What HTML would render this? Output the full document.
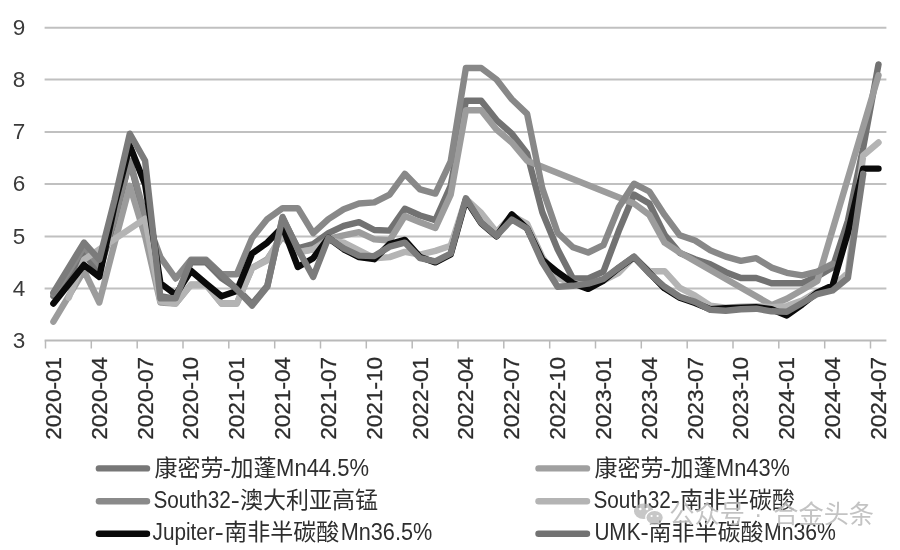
<!DOCTYPE html>
<html><head><meta charset="utf-8"><title>chart</title>
<style>
html,body{margin:0;padding:0;background:#fff;}
body{width:900px;height:550px;overflow:hidden;position:relative;}
svg text{font-family:"Liberation Sans","Noto Sans CJK SC",sans-serif;}
.yl{font-size:22.5px;fill:#3a3a3a;}
.xl{font-size:22.6px;fill:#2c2c2c;stroke:#2c2c2c;stroke-width:0.3px;}
.lg{font-size:23px;fill:#2e2e2e;}
.wm{font-size:25.2px;fill:#bcbcbc;fill-opacity:0.9;stroke:#fff;stroke-width:0.5px;stroke-opacity:0.6;paint-order:stroke;}
</style></head><body>
<svg width="900" height="550" viewBox="0 0 900 550" style="position:absolute;left:0;top:0;will-change:transform">
<line x1="44.6" x2="886.4" y1="288.6" y2="288.6" stroke="#c0c0c0" stroke-width="2"/>
<line x1="44.6" x2="886.4" y1="236.6" y2="236.6" stroke="#c0c0c0" stroke-width="2"/>
<line x1="44.6" x2="886.4" y1="184.0" y2="184.0" stroke="#c0c0c0" stroke-width="2"/>
<line x1="44.6" x2="886.4" y1="132.1" y2="132.1" stroke="#c0c0c0" stroke-width="2"/>
<line x1="44.6" x2="886.4" y1="79.4" y2="79.4" stroke="#c0c0c0" stroke-width="2"/>
<line x1="44.6" x2="886.4" y1="27.7" y2="27.7" stroke="#c0c0c0" stroke-width="2"/>
<line x1="44.6" x2="886.4" y1="340.4" y2="340.4" stroke="#b9b9b9" stroke-width="2"/>
<line x1="45.5" x2="45.5" y1="340.5" y2="348.5" stroke="#b9b9b9" stroke-width="1.5"/>
<line x1="91.3" x2="91.3" y1="340.5" y2="348.5" stroke="#b9b9b9" stroke-width="1.5"/>
<line x1="137.2" x2="137.2" y1="340.5" y2="348.5" stroke="#b9b9b9" stroke-width="1.5"/>
<line x1="183.0" x2="183.0" y1="340.5" y2="348.5" stroke="#b9b9b9" stroke-width="1.5"/>
<line x1="228.8" x2="228.8" y1="340.5" y2="348.5" stroke="#b9b9b9" stroke-width="1.5"/>
<line x1="274.7" x2="274.7" y1="340.5" y2="348.5" stroke="#b9b9b9" stroke-width="1.5"/>
<line x1="320.5" x2="320.5" y1="340.5" y2="348.5" stroke="#b9b9b9" stroke-width="1.5"/>
<line x1="366.3" x2="366.3" y1="340.5" y2="348.5" stroke="#b9b9b9" stroke-width="1.5"/>
<line x1="412.2" x2="412.2" y1="340.5" y2="348.5" stroke="#b9b9b9" stroke-width="1.5"/>
<line x1="458.0" x2="458.0" y1="340.5" y2="348.5" stroke="#b9b9b9" stroke-width="1.5"/>
<line x1="503.8" x2="503.8" y1="340.5" y2="348.5" stroke="#b9b9b9" stroke-width="1.5"/>
<line x1="549.7" x2="549.7" y1="340.5" y2="348.5" stroke="#b9b9b9" stroke-width="1.5"/>
<line x1="595.5" x2="595.5" y1="340.5" y2="348.5" stroke="#b9b9b9" stroke-width="1.5"/>
<line x1="641.3" x2="641.3" y1="340.5" y2="348.5" stroke="#b9b9b9" stroke-width="1.5"/>
<line x1="687.2" x2="687.2" y1="340.5" y2="348.5" stroke="#b9b9b9" stroke-width="1.5"/>
<line x1="733.0" x2="733.0" y1="340.5" y2="348.5" stroke="#b9b9b9" stroke-width="1.5"/>
<line x1="778.8" x2="778.8" y1="340.5" y2="348.5" stroke="#b9b9b9" stroke-width="1.5"/>
<line x1="824.7" x2="824.7" y1="340.5" y2="348.5" stroke="#b9b9b9" stroke-width="1.5"/>
<line x1="870.5" x2="870.5" y1="340.5" y2="348.5" stroke="#b9b9b9" stroke-width="1.5"/>
<path d="M53.4 296.2 L68.7 275.4 L84.0 254.5 L99.3 271.2 L114.6 220.7 L129.8 160.8 L145.1 220.7 L160.4 296.2 L175.7 298.8 L190.9 262.4 L206.2 262.4 L221.5 278.0 L236.8 288.4 L252.1 304.0 L267.3 285.8 L282.6 218.1 L297.9 248.3 L313.2 244.1 L328.4 233.2 L343.7 225.9 L359.0 222.2 L374.3 230.0 L389.6 230.6 L404.8 208.7 L420.1 215.5 L435.4 220.1 L450.7 185.8 L465.9 100.8 L481.2 100.8 L496.5 120.1 L511.8 133.7 L527.1 153.5 L542.3 212.3 L557.6 249.3 L572.9 278.5 L588.2 278.5 L603.4 271.7 L618.7 231.1 L634.0 194.6 L649.3 203.5 L664.6 234.7 L679.8 253.0 L695.1 259.2 L710.4 264.4 L725.7 272.2 L740.9 278.0 L756.2 278.0 L771.5 283.2 L786.8 283.2 L802.1 283.2 L817.3 276.4 L832.6 267.6 L847.9 220.7 L863.2 147.7 L878.5 64.4" fill="none" stroke="#727272" stroke-width="6.4" stroke-linejoin="round" stroke-linecap="round"/>
<path d="M53.4 321.7 L68.7 296.2 L84.0 270.7 L99.3 302.5 L114.6 243.1 L129.8 185.8 L145.1 236.3 L160.4 302.5 L175.7 303.5 L190.9 284.8 L206.2 284.8 L221.5 303.5 L236.8 303.5 L252.1 268.1 L267.3 259.2 L282.6 236.3 L297.9 251.9 L313.2 249.3 L328.4 238.9 L343.7 235.3 L359.0 232.1 L374.3 239.4 L389.6 240.5 L404.8 216.0 L420.1 222.2 L435.4 228.0 L450.7 194.6 L465.9 110.2 L481.2 110.2 L496.5 129.5 L511.8 142.5 L527.1 160.8 L634.0 203.5 L649.3 214.9 L664.6 242.6 L679.8 252.5 L771.5 305.1 L786.8 298.8 L802.1 290.0 L817.3 281.1 L878.5 75.3" fill="none" stroke="#9c9c9c" stroke-width="6.4" stroke-linejoin="round" stroke-linecap="round"/>
<path d="M53.4 293.6 L68.7 271.7 L84.0 246.7 L99.3 265.0 L114.6 218.1 L129.8 160.8 L145.1 215.5 L160.4 257.1 L175.7 278.5 L190.9 259.7 L206.2 259.7 L221.5 274.3 L236.8 274.3 L252.1 237.9 L267.3 219.1 L282.6 208.2 L297.9 208.2 L313.2 233.2 L328.4 219.1 L343.7 209.2 L359.0 203.5 L374.3 202.4 L389.6 194.6 L404.8 173.8 L420.1 189.4 L435.4 193.6 L450.7 161.3 L465.9 68.0 L481.2 68.0 L496.5 79.5 L511.8 99.3 L527.1 113.9 L542.3 188.4 L557.6 232.7 L572.9 247.2 L588.2 252.5 L603.4 245.2 L618.7 207.6 L634.0 183.7 L649.3 191.5 L664.6 214.9 L679.8 235.3 L695.1 240.5 L710.4 250.4 L725.7 256.6 L740.9 260.8 L756.2 258.2 L771.5 267.6 L786.8 272.8 L802.1 275.4 L817.3 271.7 L832.6 263.9" fill="none" stroke="#888888" stroke-width="6.4" stroke-linejoin="round" stroke-linecap="round"/>
<path d="M68.7 297.8 L84.0 259.7 L99.3 249.3 L145.1 218.6 L160.4 301.4 L175.7 303.5 L190.9 284.8 L206.2 284.8 L221.5 303.5 L236.8 303.5 L252.1 268.1 L267.3 260.3 L282.6 233.7 L297.9 252.5 L313.2 249.3 L328.4 240.5 L343.7 242.6 L359.0 250.4 L374.3 258.2 L389.6 257.1 L404.8 251.9 L420.1 254.5 L435.4 250.9 L450.7 245.7 L465.9 198.8 L481.2 212.9 L496.5 232.1 L511.8 215.5 L527.1 223.8 L542.3 257.1 L557.6 278.0 L572.9 283.2 L588.2 285.8 L603.4 280.6 L618.7 272.8 L634.0 257.1 L649.3 271.2 L664.6 271.2 L679.8 287.9 L695.1 295.7 L710.4 305.6 L725.7 307.7 L740.9 306.6 L756.2 306.1 L771.5 307.2 L786.8 306.1 L802.1 300.4 L817.3 291.5 L832.6 286.8 L847.9 272.8 L863.2 155.5 L878.5 142.5" fill="none" stroke="#b4b4b4" stroke-width="6.4" stroke-linejoin="round" stroke-linecap="round"/>
<path d="M53.4 303.5 L68.7 284.2 L84.0 265.0 L99.3 276.9 L114.6 205.0 L129.8 145.6 L145.1 184.2 L160.4 283.2 L175.7 294.7 L190.9 270.7 L206.2 283.7 L221.5 296.2 L236.8 291.0 L252.1 253.5 L267.3 242.6 L282.6 226.9 L297.9 267.0 L313.2 258.2 L328.4 237.9 L343.7 249.3 L359.0 257.1 L374.3 259.2 L389.6 244.1 L404.8 239.9 L420.1 257.1 L435.4 262.4 L450.7 254.5 L465.9 199.8 L481.2 223.3 L496.5 236.3 L511.8 214.4 L527.1 228.5 L542.3 259.7 L557.6 272.2 L572.9 283.2 L588.2 288.9 L603.4 280.6 L618.7 268.1 L634.0 257.1 L649.3 272.8 L664.6 288.4 L679.8 297.8 L695.1 303.0 L710.4 309.2 L725.7 308.2 L740.9 307.7 L756.2 307.2 L771.5 309.2 L786.8 315.5 L802.1 304.6 L817.3 292.6 L832.6 285.3 L847.9 232.7 L863.2 168.6 L878.5 168.6" fill="none" stroke="#0a0a0a" stroke-width="6.4" stroke-linejoin="round" stroke-linecap="round"/>
<path d="M53.4 292.6 L68.7 267.6 L84.0 242.6 L99.3 259.7 L114.6 199.8 L129.8 133.7 L145.1 160.8 L160.4 298.3 L175.7 298.3 L190.9 260.8 L206.2 260.8 L221.5 274.9 L236.8 289.4 L252.1 305.6 L267.3 286.8 L282.6 217.0 L297.9 249.3 L313.2 276.9 L328.4 237.9 L343.7 248.3 L359.0 255.6 L374.3 256.1 L389.6 246.7 L404.8 242.6 L420.1 258.2 L435.4 261.3 L450.7 253.5 L465.9 198.3 L481.2 222.8 L496.5 235.8 L511.8 219.6 L527.1 228.5 L542.3 262.4 L557.6 286.8 L572.9 285.8 L588.2 283.7 L603.4 279.0 L618.7 267.6 L634.0 256.6 L649.3 273.3 L664.6 286.8 L679.8 296.7 L695.1 301.9 L710.4 309.8 L725.7 310.8 L740.9 309.2 L756.2 308.7 L771.5 311.3 L786.8 311.8 L802.1 303.0 L817.3 294.1 L832.6 290.5 L847.9 278.0 L863.2 173.8" fill="none" stroke="#7b7b7b" stroke-width="6.4" stroke-linejoin="round" stroke-linecap="round"/>
<text x="19" y="347.7" text-anchor="middle" class="yl">3</text>
<text x="19" y="295.6" text-anchor="middle" class="yl">4</text>
<text x="19" y="243.5" text-anchor="middle" class="yl">5</text>
<text x="19" y="191.4" text-anchor="middle" class="yl">6</text>
<text x="19" y="139.3" text-anchor="middle" class="yl">7</text>
<text x="19" y="87.2" text-anchor="middle" class="yl">8</text>
<text x="19" y="35.1" text-anchor="middle" class="yl">9</text>
<text transform="translate(60.8,439.8) rotate(-90)" class="xl">2020-01</text>
<text transform="translate(106.7,439.8) rotate(-90)" class="xl">2020-04</text>
<text transform="translate(152.5,439.8) rotate(-90)" class="xl">2020-07</text>
<text transform="translate(198.3,439.8) rotate(-90)" class="xl">2020-10</text>
<text transform="translate(244.2,439.8) rotate(-90)" class="xl">2021-01</text>
<text transform="translate(290.0,439.8) rotate(-90)" class="xl">2021-04</text>
<text transform="translate(335.8,439.8) rotate(-90)" class="xl">2021-07</text>
<text transform="translate(381.7,439.8) rotate(-90)" class="xl">2021-10</text>
<text transform="translate(427.5,439.8) rotate(-90)" class="xl">2022-01</text>
<text transform="translate(473.3,439.8) rotate(-90)" class="xl">2022-04</text>
<text transform="translate(519.2,439.8) rotate(-90)" class="xl">2022-07</text>
<text transform="translate(565.0,439.8) rotate(-90)" class="xl">2022-10</text>
<text transform="translate(610.8,439.8) rotate(-90)" class="xl">2023-01</text>
<text transform="translate(656.7,439.8) rotate(-90)" class="xl">2023-04</text>
<text transform="translate(702.5,439.8) rotate(-90)" class="xl">2023-07</text>
<text transform="translate(748.3,439.8) rotate(-90)" class="xl">2023-10</text>
<text transform="translate(794.2,439.8) rotate(-90)" class="xl">2024-01</text>
<text transform="translate(840.0,439.8) rotate(-90)" class="xl">2024-04</text>
<text transform="translate(885.9,439.8) rotate(-90)" class="xl">2024-07</text>
<line x1="98.9" x2="147.0" y1="468.4" y2="468.4" stroke="#777777" stroke-width="6.4" stroke-linecap="round"/>
<text x="154.6" y="475.5" class="lg">康密劳</text>
<text x="222.8" y="475.5" class="lg" textLength="8.2" lengthAdjust="spacingAndGlyphs">-</text>
<text x="230.4" y="475.5" class="lg">加蓬</text>
<text x="276.1" y="475.5" class="lg" textLength="92.9" lengthAdjust="spacingAndGlyphs">Mn44.5%</text>
<line x1="98.9" x2="147.0" y1="501.3" y2="501.3" stroke="#8a8a8a" stroke-width="6.4" stroke-linecap="round"/>
<text x="153.5" y="507.7" class="lg" textLength="77.3" lengthAdjust="spacingAndGlyphs">South32</text>
<text x="230.8" y="507.7" class="lg" textLength="9.0" lengthAdjust="spacingAndGlyphs">-</text>
<text x="240.0" y="507.7" class="lg">澳大利亚高锰</text>
<line x1="98.9" x2="147.0" y1="533.8" y2="533.8" stroke="#0a0a0a" stroke-width="6.4" stroke-linecap="round"/>
<text x="152.6" y="539.9" class="lg" textLength="62.2" lengthAdjust="spacingAndGlyphs">Jupiter</text>
<text x="214.8" y="539.9" class="lg" textLength="9.0" lengthAdjust="spacingAndGlyphs">-</text>
<text x="224.2" y="539.9" class="lg">南非半碳酸</text>
<text x="340.7" y="539.9" class="lg" textLength="91.6" lengthAdjust="spacingAndGlyphs">Mn36.5%</text>
<line x1="538.5" x2="587.0" y1="468.4" y2="468.4" stroke="#a0a0a0" stroke-width="6.4" stroke-linecap="round"/>
<text x="594.6" y="475.5" class="lg">康密劳</text>
<text x="662.8" y="475.5" class="lg" textLength="8.2" lengthAdjust="spacingAndGlyphs">-</text>
<text x="670.4" y="475.5" class="lg">加蓬</text>
<text x="716.1" y="475.5" class="lg" textLength="73.9" lengthAdjust="spacingAndGlyphs">Mn43%</text>
<line x1="538.5" x2="587.0" y1="501.3" y2="501.3" stroke="#b4b4b4" stroke-width="6.4" stroke-linecap="round"/>
<text x="593.5" y="507.7" class="lg" textLength="77.3" lengthAdjust="spacingAndGlyphs">South32</text>
<text x="670.8" y="507.7" class="lg" textLength="9.0" lengthAdjust="spacingAndGlyphs">-</text>
<text x="680.0" y="507.7" class="lg">南非半碳酸</text>
<line x1="538.5" x2="587.0" y1="533.8" y2="533.8" stroke="#727272" stroke-width="6.4" stroke-linecap="round"/>
<text x="594.4" y="539.9" class="lg" textLength="46.1" lengthAdjust="spacingAndGlyphs">UMK</text>
<text x="640.5" y="539.9" class="lg" textLength="8.2" lengthAdjust="spacingAndGlyphs">-</text>
<text x="648.4" y="539.9" class="lg">南非半碳酸</text>
<text x="764.0" y="539.9" class="lg" textLength="72.0" lengthAdjust="spacingAndGlyphs">Mn36%</text>
<g opacity="0.75"><ellipse cx="643.6" cy="511.2" rx="9.6" ry="7.8" fill="#b4b4b4"/><ellipse cx="654.6" cy="517.6" rx="8.8" ry="7.3" fill="#b4b4b4" stroke="#fff" stroke-width="1.3"/><circle cx="640.3" cy="509" r="1.3" fill="#fff"/><circle cx="647" cy="509" r="1.3" fill="#fff"/><circle cx="651.6" cy="516" r="1.1" fill="#fff"/><circle cx="657.6" cy="516" r="1.1" fill="#fff"/></g>
<text x="669.3" y="522.6" class="wm">公众号</text>
<text x="758.3" y="522.6" class="wm" text-anchor="middle">·</text>
<text x="773.3" y="522.6" class="wm">合金头条</text>
</svg>
</body></html>
